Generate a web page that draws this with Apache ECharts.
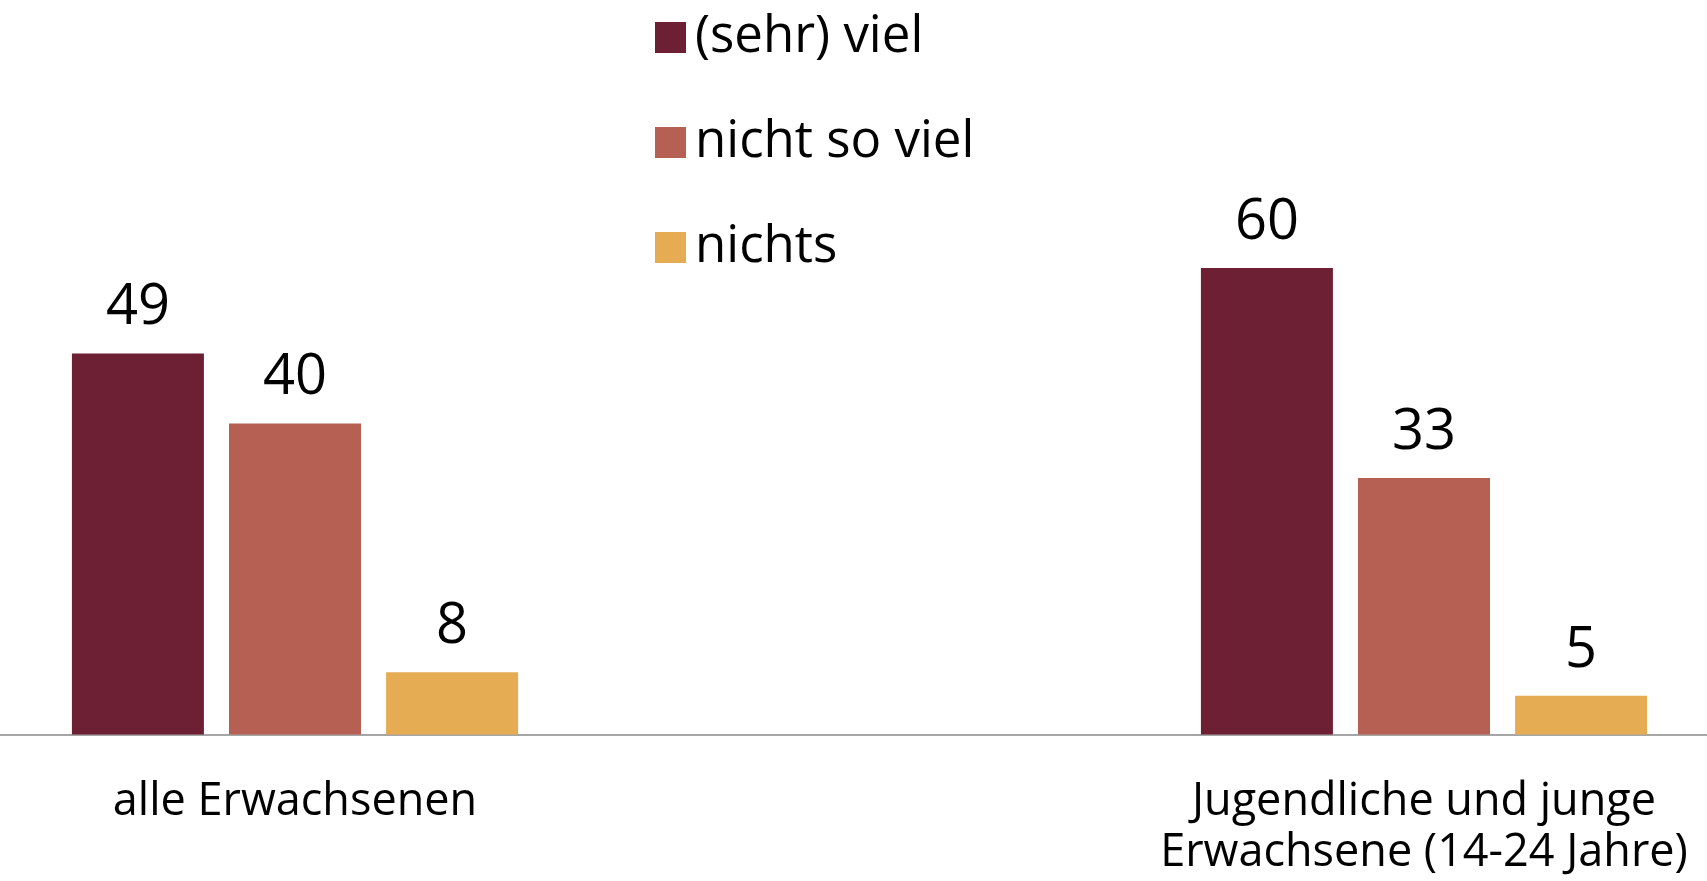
<!DOCTYPE html>
<html lang="de">
<head>
    <meta charset="UTF-8">
    <title>Balkendiagramm</title>
    <script src="https://cdn.jsdelivr.net/npm/echarts@6/dist/echarts.min.js"></script>
    <style>
        html, body { margin: 0; padding: 0; background: #fff; }
    </style>
</head>
<body>
<div id="main" style="width: 1707px;height:881px;"></div>

<script type="text/javascript">
    // Daten
    var categories = ['alle Erwachsenen', 'Jugendliche und junge\nErwachsene (14-24 Jahre)'];
    var seriesNames = ['(sehr) viel', 'nicht so viel', 'nichts'];
    var sehrViel = [49, 60];
    var nichtSoViel = [40, 33];
    var nichts = [8, 5];

    var colors = ['#6d2033', '#b56052', '#e6ac54'];
    var font = '"Open Sans", "Noto Sans", sans-serif';

    var myChart = echarts.init(document.getElementById('main'));

    function makeSeries(name, data, color) {
        return {
            name: name,
            type: 'bar',
            data: data,
            barWidth: 132,
            barGap: '19%',
            itemStyle: { color: color },
            label: {
                show: true,
                position: 'top',
                distance: 17,
                color: '#000',
                fontSize: 56,
                lineHeight: 56,
                fontFamily: font
            },
            emphasis: { disabled: true }
        };
    }

    myChart.setOption({
        animation: false,
        color: colors,
        legend: {
            data: seriesNames,
            orient: 'vertical',
            left: 655,
            top: 12,
            padding: 0,
            itemWidth: 31,
            itemHeight: 31,
            itemGap: 54,
            icon: 'rect',
            textStyle: {
                color: '#000',
                fontSize: 51,
                lineHeight: 50,
                fontFamily: font,
                padding: [0, 0, 0, 4]
            }
        },
        // die Gruppen sitzen nicht mittig, daher ragt das Raster links/rechts hinaus
        grid: {
            left: -269.5,
            width: 2258,
            top: 112.5,
            height: 622,
            containLabel: false,
            outerBoundsMode: 'none'
        },
        xAxis: {
            type: 'category',
            data: categories,
            axisLine: { lineStyle: { color: '#a6a6a6', width: 2 } },
            axisTick: { show: false },
            axisLabel: {
                interval: 0,
                margin: 42,
                color: '#000',
                fontSize: 45,
                lineHeight: 51,
                fontFamily: font
            }
        },
        yAxis: {
            type: 'value',
            min: 0,
            max: 80,
            show: false,
            splitLine: { show: false }
        },
        series: [
            makeSeries(seriesNames[0], sehrViel, colors[0]),
            makeSeries(seriesNames[1], nichtSoViel, colors[1]),
            makeSeries(seriesNames[2], nichts, colors[2])
        ]
    });
</script>
</body>
</html>
